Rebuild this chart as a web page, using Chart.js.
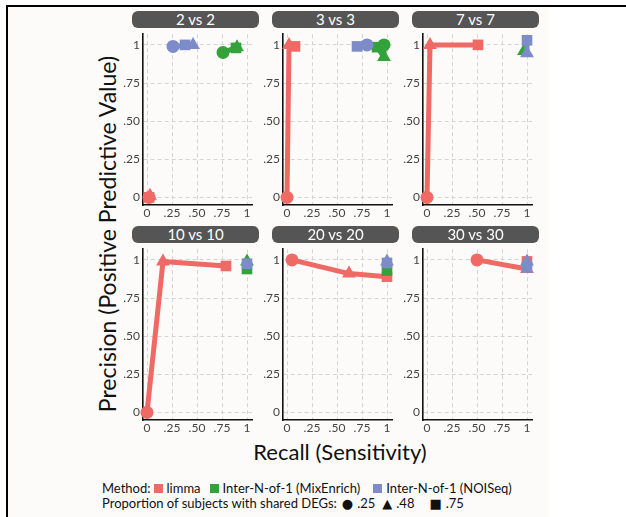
<!DOCTYPE html>
<html>
<head>
<meta charset="utf-8">
<script src="https://cdn.jsdelivr.net/npm/chart.js@4"></script>
<style>
  body { margin: 0; width: 626px; height: 517px; background: #fff; position: relative; overflow: hidden; font-family: Lato, "Open Sans", sans-serif; color: #111; }
  #bg { position: absolute; left: 8px; top: 7px; width: 540px; height: 510px; background: #fcfbf9; }
  #frame { position: absolute; left: 6px; top: 5px; width: 700px; height: 600px; border-top: 2px solid #000; border-left: 2px solid #000; }
  canvas { position: absolute; }
  .strip { position: absolute; height: 17px; background: #555; border-radius: 6px; color: #fff; font-size: 15px; line-height: 17px; text-align: center; }
  #ytitle { position: absolute; left: -93px; top: 221px; width: 400px; height: 26px; line-height: 26px; font-size: 23px; text-align: center; transform: rotate(-90deg); white-space: nowrap; }
  #xtitle { position: absolute; left: 190px; top: 439px; width: 300px; text-align: center; font-size: 22px; line-height: 26px; }
  .legend { position: absolute; left: 102px; font-size: 13px; line-height: 15px; white-space: nowrap; display: flex; align-items: center; }
  .sw { display: inline-block; width: 9px; height: 9px; margin: 0 4px 0 3px; }
  .sym { font-family: "DejaVu Sans", sans-serif; font-size: 13px; margin: 0 4px 0 5px; }
</style>
</head>
<body>
<div id="bg"></div>
<div id="frame"></div>
<div id="ytitle">Precision (Positive Predictive Value)</div>
<div id="xtitle">Recall (Sensitivity)</div>
<div class="legend" style="top:481px">Method:<span class="sw" style="background:#ef6a64"></span>limma<span class="sw" style="background:#34a23b;margin-left:9px"></span>Inter-N-of-1 (MixEnrich)<span class="sw" style="background:#7d8cc8;margin-left:13px"></span>Inter-N-of-1 (NOISeq)</div>
<div class="legend" style="top:496px">Proportion of subjects with shared DEGs:<span class="sym">●</span>.25<span class="sym" style="margin-left:7px">▲</span>.48<span class="sym" style="margin-left:15px">■</span>.75</div>
<script>
const panelTitles = ['2 vs 2', '3 vs 3', '7 vs 7', '10 vs 10', '20 vs 20', '30 vs 30'];
const methods = ['limma', 'Inter-N-of-1 (MixEnrich)', 'Inter-N-of-1 (NOISeq)'];
const methodColors = ['#ef6a64', '#34a23b', '#7d8cc8'];
// proportion of subjects with shared DEGs: .25 / .48 / .75
const proportions = ['.25', '.48', '.75'];
const markerShapes = ['circle', 'triangle', 'rect'];
const tickValues = [0, 0.25, 0.5, 0.75, 1];
const tickLabels = ['0', '.25', '.50', '.75', '1'];

// one row per panel, points in proportion order (null = not shown)
const limmaRecall = [[0.02, 0.03, 0.02], [0, 0.02, 0.08], [0, 0.03, 0.51], [0, 0.16, 0.79], [0.05, 0.62, 1.0], [0.5, 1.0, 1.0]];
const limmaPrecision = [[0, 0.01, 0], [0, 1.0, 0.99], [0, 1.0, 1.0], [0, 0.99, 0.96], [1.0, 0.91, 0.89], [1.0, 0.94, 0.99]];
const mixRecall = [[0.76, 0.90, 0.89], [0.97, 0.97, 0.90], [null, 0.97, null], [null, 1.0, 1.0], [null, null, 1.0], [null, null, null]];
const mixPrecision = [[0.95, 0.985, 0.98], [1.0, 0.92, 0.985], [null, 0.96, null], [null, 0.99, 0.94], [null, null, 0.93], [null, null, null]];
const noiRecall = [[0.26, 0.46, 0.38], [0.80, null, 0.70], [null, 1.0, 1.0], [null, null, 1.0], [null, 1.0, 1.0], [null, 1.0, 1.0]];
const noiPrecision = [[0.99, 1.0, 1.0], [1.0, null, 0.99], [null, 0.945, 1.03], [null, null, 0.975], [null, 0.99, 0.98], [null, 0.99, 0.95]];

const recallByMethod = [limmaRecall, mixRecall, noiRecall];
const precisionByMethod = [limmaPrecision, mixPrecision, noiPrecision];

const markerSize = { circle: 6.5, triangle: 8, rect: 7.5 };
const plotW = 109, plotH = 173, padL = 30, padT = 8, padR = 12, padB = 20;

function puntos(m, p) {
  const pts = [];
  recallByMethod[m][p].forEach((x, k) => {
    const y = precisionByMethod[m][p][k];
    if (x !== null && y !== null) pts.push({ x, y, s: markerShapes[k] });
  });
  return pts;
}

function eje() {
  return {
    type: 'linear',
    afterBuildTicks: s => { s.ticks = tickValues.map(v => ({ value: v })); },
    ticks: {
      callback: (v, i) => tickLabels[i],
      color: '#444',
      font: { family: 'Lato', size: 12 },
      autoSkip: false,
      maxRotation: 0,
      padding: 3
    },
    grid: { color: '#d4d4d4', lineWidth: 1, drawTicks: false },
    border: { color: '#111', width: 1.6, dash: [4, 3] }
  };
}

panelTitles.forEach((title, p) => {
  const col = p % 3, row = Math.floor(p / 3);
  const left = 143 + col * 140, top = 32 + row * 215;

  const strip = document.createElement('div');
  strip.className = 'strip';
  strip.textContent = title;
  strip.style.left = (left - 11) + 'px';
  strip.style.top = (top - 21) + 'px';
  strip.style.width = '127px';
  document.body.appendChild(strip);

  const cv = document.createElement('canvas');
  cv.width = padL + plotW + padR;
  cv.height = padT + plotH + padB;
  cv.style.left = (left - padL) + 'px';
  cv.style.top = (top - padT) + 'px';
  document.body.appendChild(cv);

  const xAxis = eje();
  xAxis.min = -0.04; xAxis.max = 1.05;
  xAxis.afterFit = s => { s.height = padB; };
  xAxis.ticks.padding = 1;
  const yAxis = eje();
  yAxis.min = -0.05; yAxis.max = 1.07;
  yAxis.afterFit = s => { s.width = padL; };

  new Chart(cv, {
    type: 'scatter',
    data: {
      datasets: methods.map((name, m) => ({
        label: name,
        data: puntos(m, p),
        showLine: true,
        order: 3 - m,
        clip: false,
        borderColor: methodColors[m],
        backgroundColor: methodColors[m],
        borderWidth: 5,
        borderJoinStyle: 'round',
        pointStyle: ctx => ctx.raw ? ctx.raw.s : 'circle',
        pointRadius: ctx => ctx.raw ? markerSize[ctx.raw.s] : 6,
        pointBorderWidth: 0,
        pointHoverRadius: ctx => ctx.raw ? markerSize[ctx.raw.s] : 6
      }))
    },
    options: {
      responsive: false,
      animation: false,
      layout: { padding: { left: 0, top: padT, right: padR, bottom: 0 } },
      plugins: { legend: { display: false }, tooltip: { enabled: false } },
      scales: { x: xAxis, y: yAxis }
    }
  });
});
</script>
</body>
</html>
